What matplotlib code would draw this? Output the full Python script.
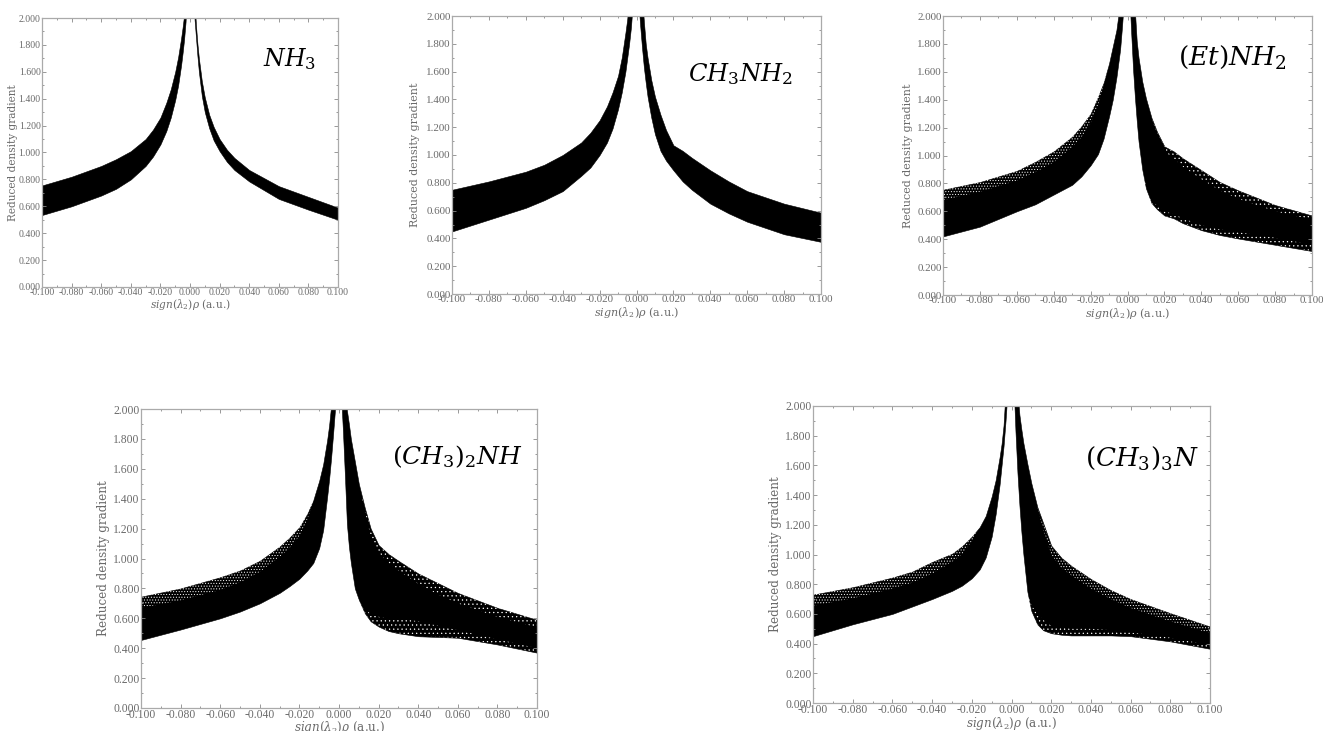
import numpy as np
import matplotlib
matplotlib.use("Agg")
import matplotlib.pyplot as plt
from matplotlib.ticker import MultipleLocator, FuncFormatter

# x knots, left and right wings (values above 2.0 run off the axes)
X_LEFT = [-0.100, -0.080, -0.060, -0.050, -0.040, -0.030, -0.025, -0.020, -0.016,
          -0.013, -0.010, -0.008, -0.006, -0.005, -0.004, -0.003, -0.002, -0.0015]
X_RIGHT = [0.100, 0.080, 0.060, 0.050, 0.040, 0.030, 0.025, 0.020, 0.016,
           0.013, 0.010, 0.008, 0.006, 0.005, 0.004, 0.003, 0.002, 0.0015]

# NH3
NH3_L_TOP = [0.755, 0.82, 0.90, 0.95, 1.01, 1.10, 1.17, 1.26, 1.37, 1.47, 1.60, 1.71, 1.85, 1.93, 2.02, 2.20, 2.50, 2.80]
NH3_L_BOT = [0.535, 0.60, 0.68, 0.73, 0.80, 0.90, 0.97, 1.06, 1.16, 1.26, 1.39, 1.50, 1.65, 1.74, 1.84, 1.97, 2.20, 2.40]
NH3_R_TOP = [0.59, 0.67, 0.75, 0.81, 0.87, 0.96, 1.02, 1.10, 1.19, 1.28, 1.41, 1.53, 1.70, 1.81, 1.95, 2.15, 2.50, 2.80]
NH3_R_BOT = [0.50, 0.575, 0.655, 0.72, 0.785, 0.87, 0.93, 1.01, 1.09, 1.18, 1.30, 1.42, 1.60, 1.72, 1.86, 2.00, 2.30, 2.60]

# CH3NH2
MA_L_TOP = [0.75, 0.81, 0.88, 0.93, 1.00, 1.09, 1.16, 1.25, 1.35, 1.45, 1.57, 1.70, 1.88, 1.98, 2.15, 2.40, 2.70, 3.00]
MA_L_BOT = [0.45, 0.535, 0.62, 0.675, 0.74, 0.85, 0.91, 1.00, 1.09, 1.19, 1.33, 1.45, 1.60, 1.70, 1.80, 1.92, 2.10, 2.30]
MA_R_TOP = [0.585, 0.65, 0.74, 0.81, 0.89, 0.98, 1.03, 1.07, 1.18, 1.29, 1.42, 1.54, 1.70, 1.80, 1.96, 2.15, 2.50, 2.80]
MA_R_BOT = [0.375, 0.43, 0.52, 0.58, 0.65, 0.75, 0.81, 0.89, 0.96, 1.03, 1.15, 1.27, 1.42, 1.52, 1.63, 1.77, 1.93, 2.02]

# (Et)NH2
ET_L_TOP = [0.755, 0.81, 0.89, 0.955, 1.03, 1.135, 1.21, 1.30, 1.42, 1.52, 1.66, 1.78, 1.90, 2.00, 2.20, 2.50, 2.80, 3.00]
ET_L_SOLID = [0.68, 0.74, 0.82, 0.88, 0.95, 1.06, 1.13, 1.23, 1.36, 1.50, 1.66, 1.78, 1.90, 2.00, 2.20, 2.50, 2.80, 3.00]
ET_L_BOT = [0.42, 0.49, 0.60, 0.65, 0.72, 0.79, 0.85, 0.93, 1.01, 1.12, 1.28, 1.40, 1.56, 1.66, 1.76, 1.92, 2.10, 2.30]
ET_R_TOP = [0.57, 0.645, 0.75, 0.81, 0.895, 0.98, 1.03, 1.065, 1.17, 1.27, 1.41, 1.53, 1.70, 1.82, 2.04, 2.30, 2.60, 3.00]
ET_R_SOLID = [0.54, 0.60, 0.69, 0.75, 0.83, 0.92, 0.98, 1.03, 1.15, 1.27, 1.41, 1.53, 1.70, 1.82, 2.04, 2.30, 2.60, 3.00]
ET_R_FLOOR = [0.36, 0.41, 0.45, 0.47, 0.50, 0.55, 0.58, 0.60, 0.64, 0.68, 0.78, 0.90, 1.10, 1.25, 1.42, 1.62, 1.88, 2.02]
ET_R_BOT = [0.315, 0.36, 0.405, 0.43, 0.465, 0.515, 0.55, 0.57, 0.615, 0.66, 0.765, 0.90, 1.10, 1.25, 1.42, 1.62, 1.88, 2.02]

# (CH3)2NH
DM_L_TOP = [0.745, 0.80, 0.875, 0.92, 0.985, 1.08, 1.14, 1.21, 1.30, 1.39, 1.52, 1.63, 1.79, 1.89, 2.02, 2.25, 2.60, 2.90]
DM_L_SOLID = [0.67, 0.72, 0.79, 0.84, 0.91, 1.01, 1.07, 1.15, 1.26, 1.38, 1.52, 1.63, 1.79, 1.89, 2.02, 2.25, 2.60, 2.90]
DM_L_BOT = [0.455, 0.525, 0.60, 0.645, 0.70, 0.77, 0.815, 0.865, 0.92, 0.97, 1.07, 1.19, 1.41, 1.53, 1.67, 1.83, 2.00, 2.10]
DM_R_TOP = [0.59, 0.67, 0.77, 0.835, 0.90, 0.985, 1.03, 1.09, 1.20, 1.34, 1.50, 1.65, 1.80, 1.90, 1.99, 2.20, 2.60, 2.90]
DM_R_SOLID = [0.54, 0.61, 0.70, 0.76, 0.83, 0.92, 0.97, 1.04, 1.15, 1.32, 1.50, 1.65, 1.80, 1.90, 1.99, 2.20, 2.60, 2.90]
DM_R_FLOOR = [0.40, 0.46, 0.52, 0.55, 0.58, 0.60, 0.60, 0.61, 0.63, 0.66, 0.74, 0.80, 0.97, 1.08, 1.23, 1.55, 1.85, 1.98]
DM_R_BOT = [0.37, 0.425, 0.47, 0.475, 0.48, 0.50, 0.515, 0.545, 0.58, 0.635, 0.725, 0.80, 0.97, 1.08, 1.23, 1.55, 1.85, 1.98]

# (CH3)3N
TM_L_TOP = [0.73, 0.78, 0.845, 0.885, 0.95, 1.005, 1.055, 1.12, 1.185, 1.26, 1.39, 1.50, 1.655, 1.745, 1.87, 2.10, 2.50, 2.80]
TM_L_SOLID = [0.655, 0.705, 0.77, 0.81, 0.87, 0.95, 1.00, 1.09, 1.185, 1.26, 1.39, 1.50, 1.655, 1.745, 1.87, 2.10, 2.50, 2.80]
TM_L_BOT = [0.45, 0.53, 0.60, 0.65, 0.70, 0.755, 0.79, 0.84, 0.90, 0.98, 1.12, 1.27, 1.47, 1.60, 1.73, 1.90, 2.10, 2.30]
TM_R_TOP = [0.515, 0.605, 0.70, 0.76, 0.835, 0.925, 0.98, 1.06, 1.21, 1.32, 1.48, 1.61, 1.75, 1.84, 1.94, 2.10, 2.50, 2.90]
TM_R_SOLID = [0.47, 0.55, 0.64, 0.70, 0.77, 0.86, 0.91, 1.00, 1.17, 1.32, 1.48, 1.61, 1.75, 1.84, 1.94, 2.10, 2.50, 2.90]
TM_R_BOT = [0.365, 0.415, 0.45, 0.455, 0.455, 0.455, 0.46, 0.47, 0.49, 0.53, 0.62, 0.75, 1.00, 1.15, 1.33, 1.55, 1.83, 2.00]
TM_R_FLOOR = [0.39, 0.44, 0.475, 0.49, 0.50, 0.50, 0.51, 0.52, 0.56, 0.60, 0.66, 0.75, 1.00, 1.15, 1.33, 1.55, 1.83, 2.00]

LABELS = [r"$NH_3$", r"$CH_3NH_2$", r"$(Et)NH_2$", r"$(CH_3)_2NH$", r"$(CH_3)_3N$"]

W, H = 1323, 731
TICK_GREY = "#6a6a6a"

plt.rcParams["font.family"] = "DejaVu Serif"
plt.rcParams["mathtext.fontset"] = "dejavuserif"
plt.rcParams["hatch.linewidth"] = 0.4


def tick_text(v, pos):
    return f"{round(v, 3) + 0.0:.3f}"


def make_axes(fig, left, top, right, bottom, tick_size, label_size, ylabel_off, xlabel_off):
    ax = fig.add_axes([left / W, 1 - bottom / H, (right - left) / W, (bottom - top) / H])
    ax.set_xlim(-0.1, 0.1)
    ax.set_ylim(0, 2)
    ax.xaxis.set_major_locator(MultipleLocator(0.02))
    ax.xaxis.set_minor_locator(MultipleLocator(0.01))
    ax.yaxis.set_major_locator(MultipleLocator(0.2))
    ax.yaxis.set_minor_locator(MultipleLocator(0.1))
    ax.xaxis.set_major_formatter(FuncFormatter(tick_text))
    ax.yaxis.set_major_formatter(FuncFormatter(tick_text))
    ax.tick_params(which="both", direction="in", top=True, right=True, color="#888888", width=0.6)
    ax.tick_params(which="major", length=3, pad=1)
    ax.tick_params(which="minor", length=1.5)
    for lab in ax.get_xticklabels() + ax.get_yticklabels():
        lab.set_family("Liberation Serif")
        lab.set_size(tick_size)
        lab.set_color(TICK_GREY)
    for spine in ax.spines.values():
        spine.set_color("#aaaaaa")
        spine.set_linewidth(0.9)
    ax.set_xlabel(r"$sign(\lambda_2)\rho$ (a.u.)", fontsize=label_size, color=TICK_GREY)
    ax.set_ylabel("Reduced density gradient", fontsize=label_size, color=TICK_GREY)
    ax.xaxis.label.set_va("center")
    ax.yaxis.label.set_va("center")
    ax.yaxis.set_label_coords(-ylabel_off / (right - left), 0.5)
    ax.xaxis.set_label_coords(0.5, -xlabel_off / (bottom - top))
    return ax


def speckle(ax, x, low, high, hatch):
    # white flecks over the black band
    ax.fill_between(x, low, high, facecolor="none", edgecolor="white", hatch=hatch, linewidth=0)


def draw_wing(ax, x, top, bot, solid=None, floor=None, rim="......"):
    ax.fill_between(x, bot, top, color="black", linewidth=0.4)
    if solid is not None:
        speckle(ax, x, solid, top, rim)
    if floor is not None:
        speckle(ax, x, bot, floor, "....")


fig = plt.figure(figsize=(W / 100, H / 100), dpi=100)

ax1 = make_axes(fig, 42, 18, 338, 287, 7.0, 7.6, 29, 18)
draw_wing(ax1, X_LEFT, NH3_L_TOP, NH3_L_BOT)
draw_wing(ax1, X_RIGHT, NH3_R_TOP, NH3_R_BOT)
ax1.text(0.0493, 1.645, LABELS[0], fontsize=17)

ax2 = make_axes(fig, 452, 16, 821, 294, 7.9, 8.0, 37, 18)
draw_wing(ax2, X_LEFT, MA_L_TOP, MA_L_BOT)
draw_wing(ax2, X_RIGHT, MA_R_TOP, MA_R_BOT)
ax2.text(0.028, 1.53, LABELS[1], fontsize=17.5)

ax3 = make_axes(fig, 943, 16, 1312, 295, 7.9, 8.0, 35, 18)
draw_wing(ax3, X_LEFT, ET_L_TOP, ET_L_BOT, ET_L_SOLID)
draw_wing(ax3, X_RIGHT, ET_R_TOP, ET_R_BOT, ET_R_SOLID, ET_R_FLOOR, rim="....")
ax3.text(0.0274, 1.65, LABELS[2], fontsize=19)

ax4 = make_axes(fig, 141, 409, 537, 708, 8.4, 8.6, 38, 20)
draw_wing(ax4, X_LEFT, DM_L_TOP, DM_L_BOT, DM_L_SOLID)
draw_wing(ax4, X_RIGHT, DM_R_TOP, DM_R_BOT, DM_R_SOLID, DM_R_FLOOR, rim="....")
ax4.text(0.0268, 1.63, LABELS[3], fontsize=18)

ax5 = make_axes(fig, 813, 406, 1210, 703, 8.4, 8.6, 38, 20)
draw_wing(ax5, X_LEFT, TM_L_TOP, TM_L_BOT, TM_L_SOLID)
draw_wing(ax5, X_RIGHT, TM_R_TOP, TM_R_BOT, TM_R_SOLID, TM_R_FLOOR)
ax5.text(0.037, 1.60, LABELS[4], fontsize=18.8)

fig.savefig("out.png", dpi=100)
